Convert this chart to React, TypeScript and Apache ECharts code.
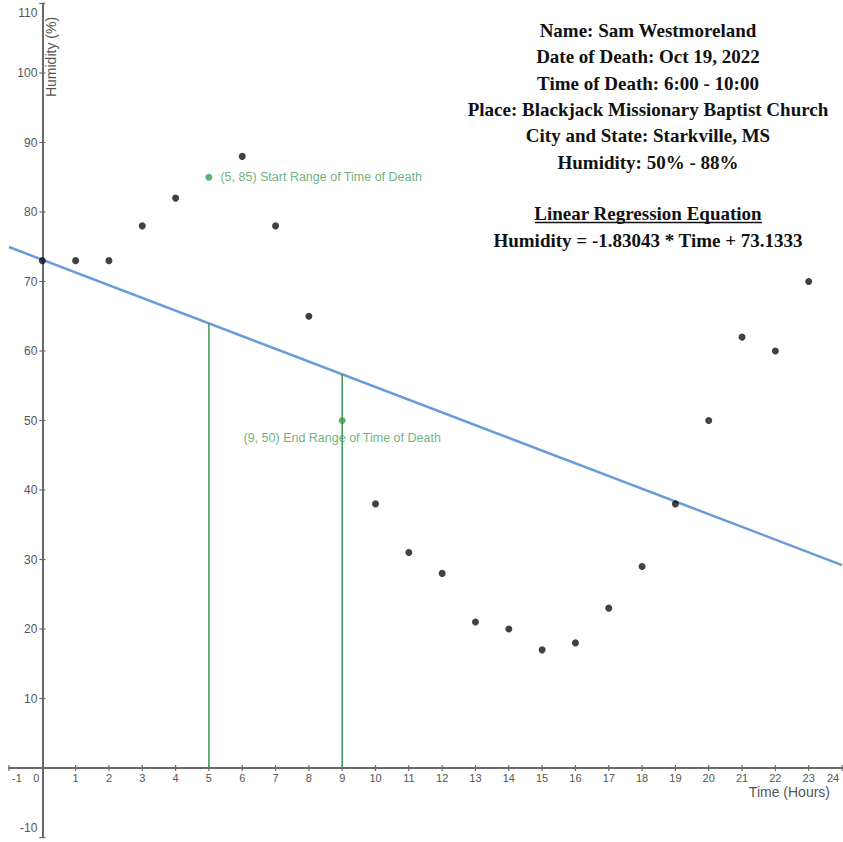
import React, { useEffect, useRef } from "react";
import * as echarts from "echarts";

// ---- data ----
const hours = [0, 1, 2, 3, 4, 6, 7, 8, 10, 11, 12, 13, 14, 15, 16, 17, 18, 19, 20, 21, 22, 23];
const humidity = [73, 73, 73, 78, 82, 88, 78, 65, 38, 31, 28, 21, 20, 17, 18, 23, 29, 38, 50, 62, 60, 70];

const rangeHours = [5, 9];
const rangeHumidity = [85, 50];
const rangeLabels = ["(5, 85) Start Range of Time of Death", "(9, 50) End Range of Time of Death"];

// regression line endpoints
const regX = [-1, 24];
const regY = [74.96, 29.2];

// vertical marker lines: from 0 up to the regression line
const markerX = [5, 9];
const markerTop = [64.0, 56.7];

const xTicks = [-1, 0, 1, 2, 3, 4, 5, 6, 7, 8, 9, 10, 11, 12, 13, 14, 15, 16, 17, 18, 19, 20, 21, 22, 23, 24];
const yTicks = [-10, 10, 20, 30, 40, 50, 60, 70, 80, 90, 100, 110];

const infoLines = [
  "Name: Sam Westmoreland",
  "Date of Death: Oct 19, 2022",
  "Time of Death: 6:00 - 10:00",
  "Place: Blackjack Missionary Baptist Church",
  "City and State: Starkville, MS",
  "Humidity: 50% - 88%",
];
const eqTitle = "Linear Regression Equation";
const eqText = "Humidity = -1.83043 * Time + 73.1333";

const xAxisTitle = "Time (Hours)";
const yAxisTitle = "Humidity (%)";

export default function App() {
  const ref = useRef<HTMLDivElement>(null);
  useEffect(() => {
    if (!ref.current) return;
    const chart = echarts.init(ref.current, null, { renderer: "svg" });
    const axisColor = "#6a6a6a";
    const labelColor = "#555";
    const green = "#3b9a4b";
    const blue = "#6a9bd8";
    const sans = "'Liberation Sans', Arial, sans-serif";

    const series: any[] = [];
    series.push({
      type: "line",
      data: regX.map((x, i) => [x, regY[i]]),
      symbol: "none",
      lineStyle: { color: blue, width: 2.5 },
      z: 2,
    });
    markerX.forEach((x, i) => {
      series.push({
        type: "line",
        data: [[x, 0], [x, markerTop[i]]],
        symbol: "none",
        lineStyle: { color: green, width: 1.5 },
        z: 3,
      });
    });
    series.push({
      type: "scatter",
      data: hours.map((h, i) => [h, humidity[i]]),
      symbolSize: 7,
      itemStyle: { color: "#111" },
      z: 5,
    });
    series.push({
      type: "scatter",
      data: rangeHours.map((h, i) => ({
        value: [h, rangeHumidity[i]],
        label: {
          show: true,
          formatter: rangeLabels[i],
          position: i === 0 ? "right" : "bottom",
          distance: i === 0 ? 8 : 7,
          color: "#4a9c58",
          fontSize: 12.5,
          fontFamily: sans,
        },
      })),
      symbolSize: 7,
      itemStyle: { color: green },
      z: 6,
    });

    chart.setOption({
      animation: false,
      backgroundColor: "#fff",
      grid: { left: 9, right: 1, top: 3.5, bottom: 4.5, containLabel: false, outerBoundsMode: "none" },
      xAxis: {
        type: "value",
        min: -1,
        max: 24,
        interval: 1,
        axisLine: { onZero: true, lineStyle: { color: axisColor, width: 2 } },
        axisTick: { show: false },
        axisLabel: { show: false },
        splitLine: { show: false },
      },
      yAxis: {
        type: "value",
        min: -10,
        max: 110,
        interval: 10,
        axisLine: { show: true, onZero: true, lineStyle: { color: axisColor, width: 2 } },
        axisTick: { show: false },
        axisLabel: { show: false },
        splitLine: { show: false },
      },
      series,
    });

    const origin = chart.convertToPixel({ gridIndex: 0 }, [0, 0]) as number[];
    const ox = origin[0];
    const oy = origin[1];
    const graphics: any[] = [];

    // x ticks & labels
    xTicks.forEach((v) => {
      const p = chart.convertToPixel({ gridIndex: 0 }, [v, 0]) as number[];
      if (v !== 0) {
        graphics.push({
          type: "line",
          shape: { x1: p[0], y1: oy - 3, x2: p[0], y2: oy + 3 },
          style: { stroke: axisColor, lineWidth: 1.2 },
          z: 1,
        });
      }
      let lx = p[0];
      if (v === 0) lx = ox - 6;
      if (v === -1) lx = p[0] + 8;
      if (v === 24) lx = p[0] - 9;
      graphics.push({
        type: "text",
        x: lx,
        y: oy + 10,
        style: { text: String(v), align: "center", verticalAlign: "middle", font: `11px ${sans}`, fill: labelColor },
      });
    });
    // y ticks & labels
    yTicks.forEach((v) => {
      const p = chart.convertToPixel({ gridIndex: 0 }, [0, v]) as number[];
      graphics.push({
        type: "line",
        shape: { x1: ox - 3, y1: p[1], x2: ox + 3, y2: p[1] },
        style: { stroke: axisColor, lineWidth: 1.2 },
        z: 1,
      });
      let ly = p[1];
      if (v === 110) ly = p[1] + 9;
      if (v === -10) ly = p[1] - 10;
      graphics.push({
        type: "text",
        x: ox - 5,
        y: ly,
        style: { text: String(v), align: "right", verticalAlign: "middle", font: `12px ${sans}`, fill: labelColor },
      });
    });

    const textFont = "'Liberation Serif', 'Times New Roman', serif";
    const lineYs = [30, 56.5, 83, 109, 135.5, 162];
    infoLines.forEach((t, i) => {
      graphics.push({
        type: "text",
        x: 648,
        y: lineYs[i],
        style: { text: t, align: "center", verticalAlign: "middle", font: `bold 19px ${textFont}`, fill: "#111" },
      });
    });
    graphics.push({
      type: "text",
      x: 648,
      y: 213,
      style: { text: eqTitle, align: "center", verticalAlign: "middle", font: `bold 19px ${textFont}`, fill: "#111" },
    });
    graphics.push({
      type: "line",
      shape: { x1: 535, y1: 222.5, x2: 762, y2: 222.5 },
      style: { stroke: "#111", lineWidth: 1.3 },
    });
    graphics.push({
      type: "text",
      x: 648,
      y: 240,
      style: { text: eqText, align: "center", verticalAlign: "middle", font: `bold 19px ${textFont}`, fill: "#111" },
    });
    // axis titles
    graphics.push({
      type: "text",
      x: ox + 9,
      y: 57,
      rotation: Math.PI / 2,
      style: { text: yAxisTitle, align: "center", verticalAlign: "middle", font: `14px ${sans}`, fill: labelColor },
    });
    graphics.push({
      type: "text",
      x: 830,
      y: oy + 24,
      style: { text: xAxisTitle, align: "right", verticalAlign: "middle", font: `14px ${sans}`, fill: labelColor },
    });

    chart.setOption({ graphic: graphics });
    return () => chart.dispose();
  }, []);
  return <div ref={ref} style={{ position: "absolute", left: 0, top: 0, width: 843, height: 842 }} />;
}
